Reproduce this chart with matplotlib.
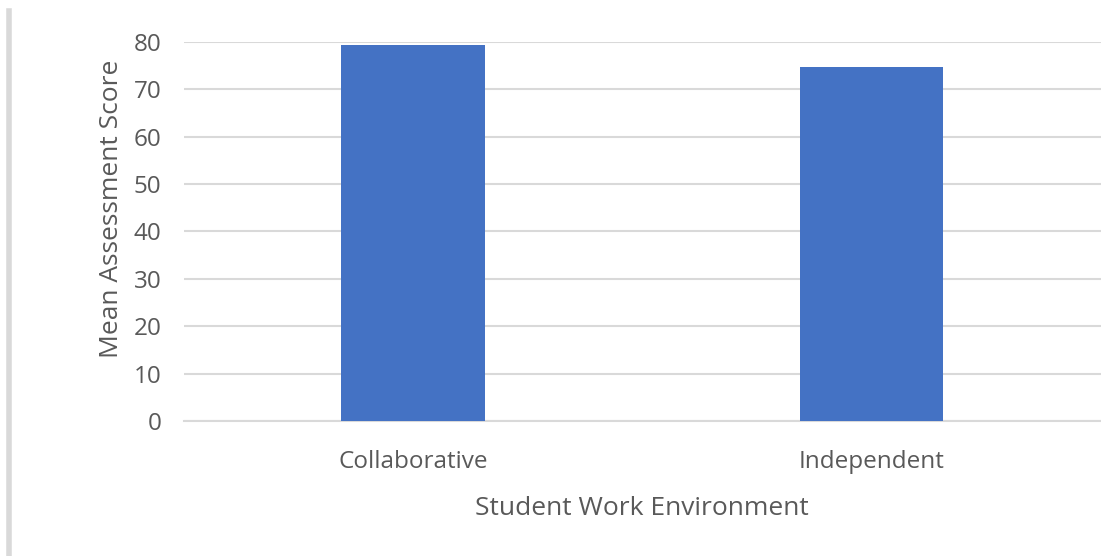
import matplotlib.pyplot as plt
from matplotlib.lines import Line2D

# data
environments = ["Collaborative", "Independent"]
mean_scores = [79.4, 74.8]
y_ticks = [0, 10, 20, 30, 40, 50, 60, 70, 80]

plt.rcParams['font.family'] = ['Open Sans', 'DejaVu Sans']
grey = '#595959'

fig = plt.figure(figsize=(11.01, 5.56), dpi=100)
ax = fig.add_axes([0.1667, 0.2428, 0.8333, 0.6817])

x = list(range(len(environments)))
ax.bar(x, mean_scores, width=0.313, color='#4472C4', zorder=3)

ax.set_xlim(-0.5, 1.5)
ax.set_ylim(0, 80)
ax.set_yticks(y_ticks)
ax.set_xticks(x)
ax.set_xticklabels(environments)

ax.grid(axis='y', color='#d9d9d9', linewidth=1.5, zorder=0)
for s in ['top', 'right', 'left']:
    ax.spines[s].set_visible(False)
ax.spines['bottom'].set_color('#d9d9d9')
ax.spines['bottom'].set_linewidth(1.5)

ax.tick_params(axis='both', length=0, labelsize=17.5, labelcolor=grey)
ax.tick_params(axis='y', pad=16)
ax.tick_params(axis='x', pad=21)

ax.set_ylabel("Mean Assessment Score", fontsize=19, color=grey, labelpad=7)
ax.yaxis.label.set_y(0.56)
ax.set_xlabel("Student Work Environment", fontsize=19, color=grey, labelpad=16)

# grey frame line on the left edge
fig.add_artist(Line2D([0.0085, 0.0085], [0, 0.98], transform=fig.transFigure,
                      color='#d9d9d9', linewidth=4))

fig.savefig("out.png", dpi=100)
